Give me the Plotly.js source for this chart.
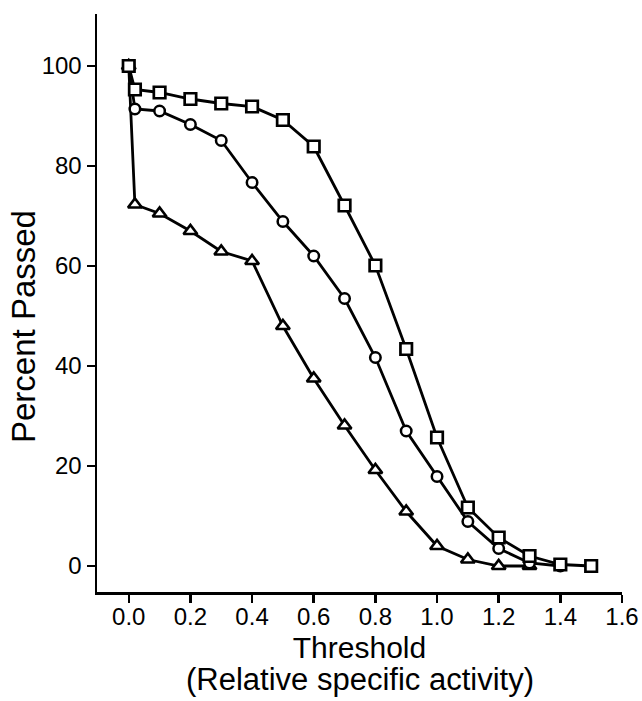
<!DOCTYPE html>
<html>
<head>
<meta charset="utf-8">
<script src="https://cdn.plot.ly/plotly-3.0.1.min.js"></script>
<style>
  html, body { margin: 0; padding: 0; background: #ffffff; }
  #chart { width: 642px; height: 701px; }
</style>
</head>
<body>
<div id="chart"></div>
<script>
// Threshold values (relative specific activity)
const xSquares   = [0.0, 0.02, 0.1, 0.2, 0.3, 0.4, 0.5, 0.6, 0.7, 0.8, 0.9, 1.0, 1.1, 1.2, 1.3, 1.4, 1.5];
const ySquares   = [100, 95.3, 94.7, 93.4, 92.5, 91.9, 89.2, 83.9, 72.1, 60.1, 43.4, 25.7, 11.7, 5.7, 2.0, 0.3, 0.0];

const xCircles   = [0.0, 0.02, 0.1, 0.2, 0.3, 0.4, 0.5, 0.6, 0.7, 0.8, 0.9, 1.0, 1.1, 1.2, 1.3, 1.4];
const yCircles   = [100, 91.4, 91.0, 88.3, 85.1, 76.7, 68.9, 62.0, 53.5, 41.7, 27.0, 17.9, 8.9, 3.5, 0.6, 0.0];

const xTriangles = [0.0, 0.02, 0.1, 0.2, 0.3, 0.4, 0.5, 0.6, 0.7, 0.8, 0.9, 1.0, 1.1, 1.2, 1.3];
const yTriangles = [100, 72.3, 70.5, 67.0, 62.9, 61.0, 48.0, 37.5, 28.1, 19.2, 10.9, 4.0, 1.3, 0.0, 0.0];

const xTicks = [0.0, 0.2, 0.4, 0.6, 0.8, 1.0, 1.2, 1.4, 1.6];
const yTicks = [0, 20, 40, 60, 80, 100];

const xTitle = 'Threshold';
const xSubTitle = '(Relative specific activity)';
const yTitle = 'Percent Passed';

const lineStyle = { color: '#000000', width: 2.8 };

const traces = [
  {
    x: xTriangles, y: yTriangles, type: 'scatter', mode: 'lines+markers',
    line: lineStyle,
    marker: { symbol: 'triangle-up', size: 12, color: '#ffffff', line: { color: '#000000', width: 2.6 } }
  },
  {
    x: xCircles, y: yCircles, type: 'scatter', mode: 'lines+markers',
    line: lineStyle,
    marker: { symbol: 'circle', size: 10.5, color: '#ffffff', line: { color: '#000000', width: 2.5 } }
  },
  {
    x: xSquares, y: ySquares, type: 'scatter', mode: 'lines+markers',
    line: lineStyle,
    marker: { symbol: 'square', size: 11.5, color: '#ffffff', line: { color: '#000000', width: 2.7 } }
  }
];

const fontFamily = '"Liberation Sans", Arial, Helvetica, sans-serif';

const layout = {
  width: 642,
  height: 701,
  margin: { l: 97, r: 20, t: 14, b: 109 },
  paper_bgcolor: '#ffffff',
  plot_bgcolor: '#ffffff',
  showlegend: false,
  font: { family: fontFamily, color: '#000000' },
  xaxis: {
    range: [-0.103, 1.6],
    tickvals: xTicks,
    ticktext: xTicks.map(v => v.toFixed(1)),
    ticks: 'outside',
    ticklen: 8,
    tickwidth: 2.5,
    tickcolor: '#000000',
    ticklabelstandoff: -6,
    showline: true,
    linecolor: '#000000',
    linewidth: 2.5,
    showgrid: false,
    zeroline: false,
    tickfont: { size: 24, family: fontFamily, color: '#000000' },
    title: { text: xTitle, font: { size: 30, family: fontFamily, color: '#000000' }, standoff: 8 }
  },
  yaxis: {
    range: [-5.2, 110.4],
    tickvals: yTicks,
    ticks: 'outside',
    ticklen: 8,
    tickwidth: 2.5,
    tickcolor: '#000000',
    showline: true,
    linecolor: '#000000',
    linewidth: 2.5,
    showgrid: false,
    zeroline: false,
    tickfont: { size: 24, family: fontFamily, color: '#000000' }
  },
  annotations: [
    {
      text: yTitle, xref: 'paper', yref: 'paper', x: -0.139, y: 0.4585,
      xanchor: 'center', yanchor: 'middle', textangle: -90, showarrow: false,
      font: { size: 33, family: fontFamily, color: '#000000' }
    },
    {
      text: xSubTitle, xref: 'paper', yref: 'paper', x: 0.501, y: -0.152,
      xanchor: 'center', yanchor: 'middle', showarrow: false,
      font: { size: 31, family: fontFamily, color: '#000000' }
    }
  ]
};

Plotly.newPlot('chart', traces, layout, { staticPlot: true, displayModeBar: false });
</script>
</body>
</html>
